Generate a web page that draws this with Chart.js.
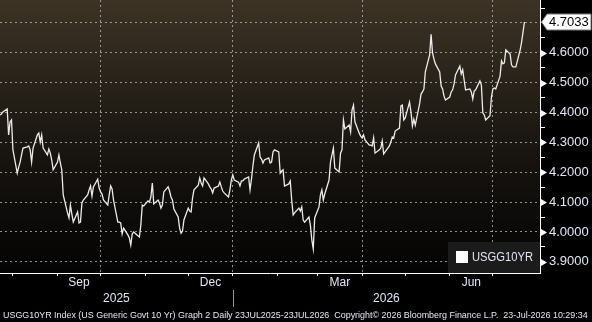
<!DOCTYPE html>
<html>
<head>
<meta charset="utf-8">
<script src="https://cdn.jsdelivr.net/npm/chart.js@4.4.1/dist/chart.umd.min.js"></script>
<style>
  html, body { margin: 0; padding: 0; background: #000; }
  #wrap { width: 592px; height: 322px; }
</style>
</head>
<body>
<div id="wrap"><canvas id="c" width="592" height="322"></canvas></div>
<script>
// ---------------- DATA ----------------
const seriesName = 'USGG10YR';
const lastValueLabel = '4.7033';
const footerText = 'USGG10YR Index (US Generic Govt 10 Yr) Graph 2 Daily 23JUL2025-23JUL2026  Copyright\u00A9 2026 Bloomberg Finance L.P.  23-Jul-2026 10:29:34';

// Daily (business-day) closing yields, %, starting Wed 23 Jul 2025
const yields2025Q3 = [
  4.392, 4.395, 4.402, 4.412, 4.325, 4.368, 4.375, 4.275, 4.197, 4.217,
  4.234, 4.258, 4.281, 4.285, 4.288, 4.275, 4.234, 4.281, 4.325, 4.331,
  4.301, 4.325, 4.281, 4.258, 4.278, 4.264, 4.241, 4.208, 4.234, 4.258,
  4.231, 4.208, 4.124, 4.064, 4.047, 4.090, 4.060, 4.033, 4.067, 4.030,
  4.033, 4.097, 4.107, 4.124, 4.141, 4.154, 4.120, 4.151, 4.177, 4.147
];
const yields2025Q4 = [
  4.134, 4.127, 4.107, 4.090, 4.124, 4.154, 4.144, 4.107, 4.033,
  4.033, 4.030, 3.993, 4.013, 3.990, 3.980, 3.956, 3.993, 4.000, 3.987,
  3.983, 4.023, 4.090, 4.087, 4.104, 4.100, 4.117, 4.164, 4.094, 4.107,
  4.097, 4.080, 4.090, 4.134, 4.151, 4.137, 4.117, 4.107, 4.077, 4.050,
  4.013, 3.996, 4.003, 4.040, 4.080, 4.070, 4.067, 4.114, 4.141, 4.157,
  4.181, 4.164, 4.154, 4.181, 4.161, 4.151, 4.144, 4.131, 4.147, 4.154,
  4.167, 4.151, 4.137, 4.131, 4.117, 4.141
];
const yields2026Q1 = [
  4.174, 4.191, 4.174, 4.167, 4.154, 4.171, 4.171, 4.177, 4.184, 4.141,
  4.177, 4.221, 4.258, 4.298, 4.251, 4.244, 4.231, 4.241, 4.248, 4.231,
  4.234, 4.268, 4.275, 4.268, 4.197, 4.204, 4.208, 4.154, 4.161, 4.171,
  4.107, 4.057, 4.064, 4.080, 4.070, 4.084, 4.040, 4.033, 4.050, 4.023,
  3.973, 3.943, 4.047, 4.084, 4.124, 4.141, 4.107, 4.127, 4.174, 4.234,
  4.258, 4.281, 4.214, 4.201, 4.264, 4.275, 4.375, 4.345, 4.358, 4.335,
  4.409, 4.425, 4.369
];
const yields2026Q2 = [
  4.331, 4.321, 4.315, 4.325, 4.308, 4.291, 4.291, 4.288, 4.315, 4.264,
  4.275, 4.281, 4.305, 4.261, 4.268, 4.288, 4.301, 4.318, 4.315, 4.338,
  4.348, 4.422, 4.425, 4.375, 4.382, 4.435, 4.402, 4.355, 4.378, 4.358,
  4.429, 4.462, 4.469, 4.479, 4.536, 4.593, 4.662, 4.600, 4.579, 4.563,
  4.536, 4.489, 4.479, 4.455, 4.442, 4.452, 4.469, 4.476, 4.496, 4.526,
  4.556, 4.529, 4.543, 4.509, 4.476, 4.479, 4.469, 4.445, 4.472, 4.476,
  4.506, 4.492, 4.399, 4.392
];
const yields2026Q3 = [
  4.375, 4.389, 4.452, 4.479, 4.482, 4.479, 4.522, 4.573, 4.563, 4.566,
  4.610, 4.596, 4.559, 4.553, 4.553, 4.553, 4.610, 4.636, 4.670, 4.7033
];

// Axis categories / tick labels
const startDate = [2025, 6, 23];          // 23 Jul 2025 (month 0-based)
const axisEndDate = [2026, 7, 2.8];       // right edge of plot (~2 Aug 2026)
const monthStarts = [[2025,7],[2025,8],[2025,9],[2025,10],[2025,11],[2026,0],[2026,1],[2026,2],[2026,3],[2026,4],[2026,5],[2026,6]];
const quarterStarts = [[2025,9],[2026,0],[2026,3],[2026,6]];
const monthLabels = [['Sep',2025,8],['Dec',2025,11],['Mar',2026,2],['Jun',2026,5]];
const yearLabels = [['2025',2025],['2026',2026]];
const yMajorTicks = [3.9, 4.0, 4.1, 4.2, 4.3, 4.4, 4.5, 4.6, 4.7];
const yMinorTicks = [3.95, 4.05, 4.15, 4.25, 4.35, 4.45, 4.55, 4.65, 4.75];
const yRange = [3.8625, 4.777];

// ---------------- BUILD ----------------
const DAY = 86400000;
const t0 = Date.UTC(startDate[0], startDate[1], startDate[2]);
const dayOf = (y, m, d) => (Date.UTC(y, m, 1) + ((d || 1) - 1) * DAY - t0) / DAY;

const allYields = [].concat(yields2025Q3, yields2025Q4, yields2026Q1, yields2026Q2, yields2026Q3);
const points = [];
{
  let d = 0;
  for (const v of allYields) {
    while ([0, 6].includes(new Date(t0 + d * DAY).getUTCDay())) d++;
    points.push({ x: d, y: v });
    d++;
  }
}
const xMax = dayOf(axisEndDate[0], axisEndDate[1], axisEndDate[2]);
const jan1 = dayOf(2026, 0, 1);
const quarterDays = quarterStarts.map(([y, m]) => dayOf(y, m, 1));

const xTicks = [];
monthStarts.forEach(([y, m]) => xTicks.push({ value: dayOf(y, m, 1), lbl: '', kind: 'month' }));
monthLabels.forEach(([t, y, m]) => {
  const a = dayOf(y, m, 1), b = dayOf(m === 11 ? y + 1 : y, (m + 1) % 12, 1);
  xTicks.push({ value: (a + b) / 2, lbl: [t], kind: 'label' });
});
yearLabels.forEach(([t, y]) => {
  const a = Math.max(0, dayOf(y, 0, 1)), b = Math.min(xMax, dayOf(y + 1, 0, 1));
  xTicks.push({ value: (a + b) / 2, lbl: ['', t], kind: 'label' });
});
xTicks.sort((p, q) => p.value - q.value);

const yTicks = yMajorTicks.concat(yMinorTicks).sort((a, b) => a - b)
  .map(v => ({ value: v, major: yMajorTicks.includes(v) }));

const FONT = '"Liberation Sans", Arial, sans-serif';
const TEXT = '#dfe7f5';
const DASH = 'rgba(190,190,190,0.75)';

const decor = {
  id: 'decor',
  beforeDraw(chart) {
    const { ctx, chartArea: a } = chart;
    ctx.save();
    ctx.fillStyle = '#000';
    ctx.fillRect(0, 0, chart.width, chart.height);
    const g = ctx.createLinearGradient(0, a.top, 0, a.bottom);
    g.addColorStop(0, '#3c3325');
    g.addColorStop(0.5, '#1b1712');
    g.addColorStop(1, '#030303');
    ctx.fillStyle = g;
    ctx.fillRect(a.left, a.top, a.right - a.left, a.bottom - a.top);
    ctx.restore();
  },
  afterDraw(chart) {
    const { ctx, chartArea: a, scales } = chart;
    const ys = scales.y, xs = scales.x;
    ctx.save();
    // pointers at major y labels
    ctx.fillStyle = '#ffffff';
    yMajorTicks.forEach(v => {
      if (v >= 4.7) return;
      const py = Math.round(ys.getPixelForValue(v)) + 0.5;
      ctx.beginPath();
      ctx.moveTo(a.right + 1, py - 3.5);
      ctx.lineTo(a.right + 7, py);
      ctx.lineTo(a.right + 1, py + 3.5);
      ctx.closePath();
      ctx.fill();
    });
    // last value tag
    const last = points[points.length - 1];
    const ty = ys.getPixelForValue(last.y);
    ctx.beginPath();
    ctx.moveTo(a.right + 1.5, ty);
    ctx.lineTo(a.right + 7, ty - 8);
    ctx.lineTo(chart.width - 1, ty - 8);
    ctx.lineTo(chart.width - 1, ty + 8);
    ctx.lineTo(a.right + 7, ty + 8);
    ctx.closePath();
    ctx.fillStyle = '#ffffff';
    ctx.fill();
    ctx.strokeStyle = '#777';
    ctx.lineWidth = 1;
    ctx.stroke();
    ctx.fillStyle = '#000';
    ctx.font = '13px ' + FONT;
    ctx.textBaseline = 'middle';
    ctx.textAlign = 'left';
    ctx.fillText(lastValueLabel, a.right + 9, ty + 0.5);
    // legend box
    const lw = 92, lh = 31;
    const lx = a.right - lw, ly = a.bottom - lh;
    ctx.fillStyle = '#1b1b1b';
    ctx.fillRect(lx, ly, lw, lh);
    ctx.fillStyle = '#ffffff';
    ctx.fillRect(lx + 8, ly + 9, 12, 12);
    ctx.font = '12.5px ' + FONT;
    ctx.fillStyle = TEXT;
    ctx.fillText(seriesName, lx + 24, ly + 15.5, 61);
    // year separator
    const sx = Math.round(xs.getPixelForValue(jan1)) + 0.5;
    ctx.strokeStyle = '#9a9a9a';
    ctx.beginPath();
    ctx.moveTo(sx, a.bottom + 17);
    ctx.lineTo(sx, a.bottom + 34);
    ctx.stroke();
    // footer
    let fs = 9;
    ctx.font = fs + 'px ' + FONT;
    const w = ctx.measureText(footerText).width;
    fs = Math.min(10, fs * 586 / w);
    ctx.font = fs.toFixed(2) + 'px ' + FONT;
    ctx.fillStyle = TEXT;
    ctx.textBaseline = 'alphabetic';
    ctx.fillText(footerText, 3, 318);
    ctx.restore();
  }
};

new Chart(document.getElementById('c'), {
  type: 'line',
  data: {
    datasets: [{
      label: seriesName,
      data: points,
      borderColor: '#ececec',
      borderWidth: 1.3,
      pointRadius: 0,
      tension: 0,
      fill: false
    }]
  },
  options: {
    responsive: false,
    animation: false,
    devicePixelRatio: 1,
    layout: { padding: 0 },
    plugins: { legend: { display: false }, tooltip: { enabled: false } },
    scales: {
      x: {
        type: 'linear',
        min: 0,
        max: xMax,
        afterBuildTicks: s => { s.ticks = xTicks.map(t => ({ value: t.value, lbl: t.lbl, kind: t.kind })); },
        afterFit: s => { s.height = 49; s.paddingLeft = 0; s.paddingRight = 0; },
        ticks: {
          autoSkip: false,
          maxRotation: 0,
          minRotation: 0,
          padding: -1,
          color: TEXT,
          font: { size: 12, family: FONT, lineHeight: '16px' },
          callback: (v, i, ticks) => ticks[i].lbl
        },
        grid: {
          drawTicks: true,
          tickLength: 3,
          lineWidth: 1,
          color: c => (c.tick && quarterDays.includes(c.tick.value)) ? DASH : 'rgba(0,0,0,0)',
          tickColor: c => (c.tick && c.tick.kind === 'month') ? '#ffffff' : 'rgba(0,0,0,0)'
        },
        border: { display: true, color: '#ffffff', width: 1, dash: [2, 3] }
      },
      y: {
        type: 'linear',
        position: 'right',
        min: yRange[0],
        max: yRange[1],
        afterBuildTicks: s => { s.ticks = yTicks.map(t => ({ value: t.value, major: t.major })); },
        afterFit: s => { s.width = 52; s.paddingTop = 0; s.paddingBottom = 0; },
        ticks: {
          autoSkip: false,
          padding: 4,
          color: TEXT,
          font: { size: 13, family: FONT },
          callback: (v, i, ticks) => (ticks[i].major && v < 4.69) ? v.toFixed(4) : ''
        },
        grid: {
          drawTicks: true,
          tickLength: 5,
          lineWidth: 1,
          color: c => (c.tick && yMajorTicks.includes(c.tick.value)) ? DASH : 'rgba(0,0,0,0)',
          tickColor: '#ffffff'
        },
        border: { display: true, color: '#ffffff', width: 1, dash: [2, 3] }
      }
    }
  },
  plugins: [decor]
});
</script>
</body>
</html>
